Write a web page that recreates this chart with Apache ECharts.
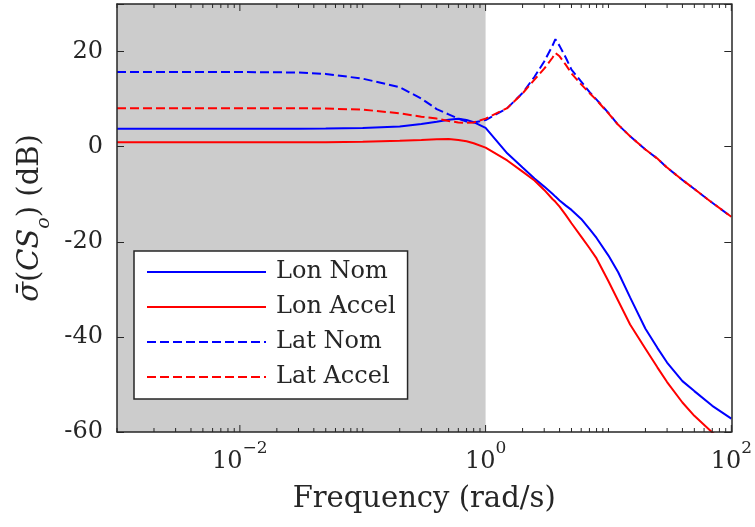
<!DOCTYPE html>
<html>
<head>
<meta charset="utf-8">
<script src="https://cdn.jsdelivr.net/npm/echarts@6/dist/echarts.min.js"></script>
<style>
  html, body { margin: 0; padding: 0; background: #fff; }
  #chart { width: 755px; height: 527px; }
</style>
</head>
<body>
<div id="chart"></div>
<script>
// frequency points (rad/s)
var freq = [0.001, 0.01, 0.03, 0.05, 0.1, 0.2, 0.3, 0.4, 0.5, 0.6, 0.7, 0.8, 1,
  1.5, 2, 2.5, 3, 3.5, 3.7, 4, 4.5, 5, 6, 7, 8, 10, 12, 15, 20, 25, 30, 40, 50, 70, 100];

// singular values in dB
var lonNom = [3.75, 3.75, 3.75, 3.8, 3.95, 4.25, 4.76, 5.26, 5.67, 5.87, 5.6, 5.16, 3.95,
  -1.4, -4.4, -6.7, -8.4, -9.9, -10.5, -11.3, -12.4, -13.3, -15.2, -17.3, -19.2, -22.9, -26.4,
  -31.7, -38.3, -42.3, -45.4, -49.3, -51.4, -54.5, -57.2];
var lonAccel = [0.92, 0.92, 0.92, 0.95, 1.02, 1.22, 1.42, 1.57, 1.63, 1.42, 1.12, 0.72, -0.2,
  -2.9, -5.25, -7.1, -9.1, -11.0, -11.6, -12.6, -14.4, -16.1, -18.9, -21.3, -23.5, -28.3, -32.4,
  -37.4, -42.5, -46.4, -49.5, -53.8, -56.6, -60.1, -63];
var latNom = [15.7, 15.7, 15.6, 15.3, 14.3, 12.5, 10.1, 7.9, 6.8, 5.9, 5.3, 5.1, 5.6,
  8.1, 11.3, 14.7, 17.9, 21.2, 22.6, 21.2, 18.7, 16.2, 13.7, 11.5, 9.9, 7.1, 4.6,
  2.2, -0.6, -2.5, -4.4, -7.0, -8.9, -11.8, -14.75];
var latAccel = [8.1, 8.1, 8.1, 8.0, 7.8, 7.0, 6.3, 5.9, 5.4, 5.1, 5.0, 5.1, 5.9,
  8.1, 11.2, 14.1, 16.4, 18.7, 19.7, 19.0, 17.2, 15.4, 13.1, 11.3, 9.8, 7.0, 4.6,
  2.2, -0.6, -2.5, -4.4, -7.0, -8.9, -11.8, -14.75];

var seriesNames = ['Lon Nom', 'Lon Accel', 'Lat Nom', 'Lat Accel'];
var shadeRange = [0.001, 1];
var xRange = [0.001, 100];
var yRange = [-60, 30];

var FONT = 'DejaVu Serif';
var INK = '#262626';

function pairs(vals) {
  return freq.map(function (f, i) { return [f, vals[i]]; });
}

// tick marks of the log axis: 2..9 minor, every other decade major
var xTickMarks = [];
for (var e = -3; e < 2; e++) {
  for (var m = 1; m < 10; m++) {
    xTickMarks.push([m * Math.pow(10, e), (m === 1 && e % 2 === 0) ? 1 : 0]);
  }
}
xTickMarks.push([100, 1]);

function renderTicks(params, api) {
  var x = api.value(0);
  var len = api.value(1) ? 7 : 4;
  var b = api.coord([x, yRange[0]]);
  var t = api.coord([x, yRange[1]]);
  var st = { stroke: INK, lineWidth: 1 };
  return {
    type: 'group',
    children: [
      { type: 'line', shape: { x1: b[0], y1: b[1], x2: b[0], y2: b[1] - len }, style: st },
      { type: 'line', shape: { x1: t[0], y1: t[1], x2: t[0], y2: t[1] + len }, style: st }
    ]
  };
}

function lineSeries(name, vals, color, dashed) {
  return {
    name: name,
    type: 'line',
    data: pairs(vals),
    symbol: 'none',
    smooth: false,
    z: 3,
    lineStyle: { color: color, width: 2, type: dashed ? [9, 4] : 'solid' },
    itemStyle: { color: color }
  };
}

var chart = echarts.init(document.getElementById('chart'));

chart.setOption({
  animation: false,
  backgroundColor: '#fff',
  grid: { left: 117, right: 20, top: 4, bottom: 95, show: false },
  legend: {
    data: seriesNames,
    orient: 'vertical',
    left: 134,
    top: 251,
    padding: [6, 12, 7, 12],
    itemWidth: 119,
    itemHeight: 14,
    itemGap: 5,
    backgroundColor: '#fff',
    borderColor: INK,
    borderWidth: 1.5,
    selectedMode: false,
    itemStyle: { opacity: 0 },
    textStyle: { fontFamily: FONT, fontSize: 24, color: INK, lineHeight: 30, padding: [0, 0, 0, 5] }
  },
  xAxis: [{
    type: 'log',
    logBase: 10,
    min: xRange[0],
    max: xRange[1],
    position: 'bottom',
    z: 10,
    axisLine: { show: true, onZero: false, lineStyle: { color: INK, width: 1.5 } },
    axisTick: { show: false },
    splitLine: { show: false },
    axisLabel: {
      margin: 8,
      color: INK,
      fontFamily: FONT,
      formatter: function (v) {
        var ex = Math.round(Math.log10(v));
        if (ex % 2 !== 0) return '';
        var s = ex < 0 ? '\u2212' + (-ex) : String(ex);
        return '{b|10}{sup|' + s + '}';
      },
      rich: {
        b: { fontFamily: FONT, fontSize: 24, color: INK, lineHeight: 34, verticalAlign: 'bottom' },
        sup: { fontFamily: FONT, fontSize: 17, color: INK, lineHeight: 17, verticalAlign: 'top' }
      }
    },
    name: 'Frequency (rad/s)',
    nameLocation: 'middle',
    nameGap: 53,
    nameTextStyle: { fontFamily: FONT, fontSize: 29, color: INK }
  }, {
    type: 'log',
    logBase: 10,
    min: xRange[0],
    max: xRange[1],
    position: 'top',
    z: 10,
    axisLine: { show: true, onZero: false, lineStyle: { color: INK, width: 1.5 } },
    axisTick: { show: false },
    axisLabel: { show: false },
    splitLine: { show: false }
  }],
  yAxis: [{
    type: 'value',
    min: yRange[0],
    max: yRange[1],
    interval: 20,
    position: 'left',
    z: 10,
    axisLine: { show: true, onZero: false, lineStyle: { color: INK, width: 1.5 } },
    axisTick: { show: true, inside: true, length: 7, lineStyle: { color: INK, width: 1 } },
    splitLine: { show: false },
    axisLabel: {
      margin: 14,
      color: INK,
      fontFamily: FONT,
      fontSize: 24,
      formatter: function (v) { return v === yRange[1] ? '' : String(v); }
    },
    name: '{s|\u03C3\u0304}({it|CS}{sub|o}) (dB)',
    nameLocation: 'middle',
    nameRotate: 90,
    nameGap: 64,
    nameTextStyle: {
      fontFamily: FONT, fontSize: 29, color: INK,
      rich: {
        s: { fontFamily: FONT, fontSize: 29, fontStyle: 'italic', color: INK },
        it: { fontFamily: FONT, fontSize: 29, fontStyle: 'italic', color: INK },
        sub: { fontFamily: FONT, fontSize: 19, fontStyle: 'italic', color: INK, verticalAlign: 'bottom', lineHeight: 20, padding: [0, 0, -8, 0] }
      }
    }
  }, {
    type: 'value',
    min: yRange[0],
    max: yRange[1],
    interval: 20,
    position: 'right',
    z: 10,
    axisLine: { show: true, onZero: false, lineStyle: { color: INK, width: 1.5 } },
    axisTick: { show: true, inside: true, length: 7, lineStyle: { color: INK, width: 1 } },
    axisLabel: { show: false },
    splitLine: { show: false }
  }],
  series: [
    {
      name: 'shade',
      type: 'line',
      data: [],
      z: 1,
      silent: true,
      markArea: {
        silent: true,
        itemStyle: { color: '#cccccc' },
        data: [[{ xAxis: shadeRange[0] }, { xAxis: shadeRange[1] }]]
      }
    },
    lineSeries('Lon Nom', lonNom, '#0000ff', false),
    lineSeries('Lon Accel', lonAccel, '#ff0000', false),
    lineSeries('Lat Nom', latNom, '#0000ff', true),
    lineSeries('Lat Accel', latAccel, '#ff0000', true),
    {
      name: 'ticks',
      type: 'custom',
      data: xTickMarks,
      renderItem: renderTicks,
      silent: true,
      clip: false,
      z: 6
    }
  ]
});
</script>
</body>
</html>
